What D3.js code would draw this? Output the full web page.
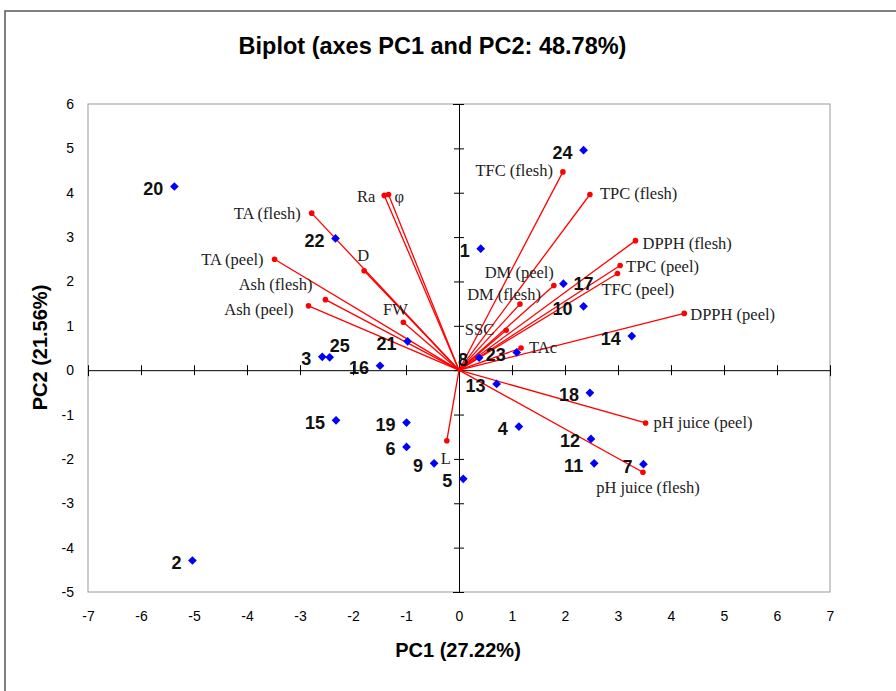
<!DOCTYPE html>
<html>
<head>
<meta charset="utf-8">
<script src="https://cdn.jsdelivr.net/npm/d3@7"></script>
<style>
  body { margin: 0; background: #fff; }
</style>
</head>
<body>
<div id="chart"></div>
<script>
// observations (scores)
const obsLabels = ["1", "2", "3", "4", "5", "6", "7", "8", "9", "10", "11", "12", "13",
    "14", "15", "16", "17", "18", "19", "20", "21", "22", "23", "24", "25"];
const obsPC1 = [0.41, -5.03, -2.58, 1.13, 0.08, -0.99, 3.48, 0.38, -0.47, 2.35, 2.55, 2.49, 0.71,
    3.26, -2.32, -1.49, 1.97, 2.47, -0.99, -5.37, -0.97, -2.33, 1.09, 2.35, -2.44];
const obsPC2 = [2.74, -4.29, 0.30, -1.27, -2.45, -1.73, -2.12, 0.28, -2.10, 1.44, -2.10, -1.55, -0.31,
    0.77, -1.13, 0.10, 1.95, -0.51, -1.18, 4.14, 0.65, 2.97, 0.40, 4.96, 0.29];

// variables (loadings)
const varLabels = ["TA (flesh)", "TA (peel)", "Ash (flesh)", "Ash (peel)", "D", "FW", "Ra", "φ",
    "TFC (flesh)", "TPC (flesh)", "DPPH (flesh)", "TPC (peel)", "TFC (peel)", "DPPH (peel)",
    "DM (peel)", "DM (flesh)", "SSC", "TAc", "pH juice (peel)", "pH juice (flesh)", "L"];
const varPC1 = [-2.78, -3.48, -2.52, -2.84, -1.79, -1.05, -1.41, -1.33,
    1.96, 2.47, 3.33, 3.04, 2.99, 4.25,
    1.79, 1.15, 0.89, 1.17, 3.52, 3.47, -0.23];
const varPC2 = [3.54, 2.50, 1.59, 1.45, 2.24, 1.08, 3.94, 3.96,
    4.47, 3.96, 2.92, 2.36, 2.18, 1.28,
    1.91, 1.49, 0.90, 0.50, -1.19, -2.30, -1.59];

const xTicks = d3.range(-7, 8);
const yTicks = d3.range(-5, 7);

const titleText = "Biplot (axes PC1 and PC2: 48.78%)";
const xTitle = "PC1 (27.22%)";
const yTitle = "PC2 (21.56%)";

// label placement (text offsets only)
const obsLabelPos = {
    "17": { dx: 10, dy: 0, anchor: "start" },
    "25": { dx: 0, dy: -12, anchor: "start" }
};
const varLabelPos = {
    "TA (flesh)": [-11, 0, "end"], "TA (peel)": [-11, 0, "end"],
    "Ash (flesh)": [-13, -15, "end"], "Ash (peel)": [-15, 4, "end"],
    "D": [-1, -15, "middle"], "FW": [-8, -13, "middle"],
    "Ra": [-9, 1, "end"], "φ": [6, 2, "start"],
    "TFC (flesh)": [-10, -1, "end"], "TPC (flesh)": [10, -1, "start"],
    "DPPH (flesh)": [7, 3, "start"], "TPC (peel)": [6, 1, "start"],
    "TFC (peel)": [-16, 16, "start"], "DPPH (peel)": [6, 1, "start"],
    "DM (peel)": [0, -13, "end"], "DM (flesh)": [21, -10, "end"],
    "SSC": [-12, -1, "end"], "TAc": [8, 0, "start"],
    "pH juice (peel)": [8, 0, "start"], "pH juice (flesh)": [5, 15, "middle"],
    "L": [-1, 18, "middle"]
};

const width = 896, height = 691;
const plot = { left: 88, right: 830, top: 104, bottom: 592 };
const sans = "Arial, 'Liberation Sans', sans-serif";
const serif = "'Times New Roman', 'Liberation Serif', serif";

const svg = d3.select("#chart").append("svg")
    .attr("width", width)
    .attr("height", height);

// outer frame
svg.append("rect")
    .attr("x", 5).attr("y", 11)
    .attr("width", 960).attr("height", 760)
    .attr("fill", "none")
    .attr("stroke", "#555")
    .attr("stroke-width", 1.5);

const x = d3.scaleLinear().domain([-7, 7]).range([plot.left, plot.right]);
const y = d3.scaleLinear().domain([-5, 6]).range([plot.bottom, plot.top]);

// title
svg.append("text")
    .attr("x", 432.5).attr("y", 54)
    .attr("text-anchor", "middle")
    .attr("font-family", sans)
    .attr("font-weight", "bold")
    .attr("font-size", "23.5px")
    .text(titleText);

// plot border
svg.append("rect")
    .attr("x", plot.left).attr("y", plot.top)
    .attr("width", plot.right - plot.left)
    .attr("height", plot.bottom - plot.top)
    .attr("fill", "none")
    .attr("stroke", "#999")
    .attr("stroke-width", 1);

// tick labels along the plot edges
const xLab = svg.append("g")
    .attr("transform", `translate(0, ${plot.bottom})`)
    .call(d3.axisBottom(x).tickValues(xTicks).tickSize(0).tickPadding(19).tickFormat(d => String(d)));
const yLab = svg.append("g")
    .attr("transform", `translate(${plot.left}, 0)`)
    .call(d3.axisLeft(y).tickValues(yTicks).tickSize(0).tickPadding(14).tickFormat(d => String(d)));
[xLab, yLab].forEach(g => {
    g.select(".domain").remove();
    g.selectAll("text")
        .attr("font-family", sans)
        .attr("font-size", "14px")
        .attr("fill", "#000");
});

// zero axes with crossing ticks
const xZero = svg.append("g")
    .attr("transform", `translate(0, ${y(0)})`)
    .call(d3.axisBottom(x).tickValues(xTicks).tickFormat(""));
xZero.selectAll(".tick line").attr("y1", -5).attr("y2", 5);
const yZero = svg.append("g")
    .attr("transform", `translate(${x(0)}, 0)`)
    .call(d3.axisLeft(y).tickValues(yTicks).tickFormat(""));
yZero.selectAll(".tick line").attr("x1", -5).attr("x2", 5);
[xZero, yZero].forEach(g => {
    g.select(".domain").attr("stroke", "#000").attr("stroke-width", 1);
    g.selectAll(".tick line").attr("stroke", "#000");
});

// variable vectors
const vars = varLabels.map((name, i) => ({ name, pc1: varPC1[i], pc2: varPC2[i] }));
const vecs = svg.append("g").attr("class", "vectors");
vecs.selectAll("line")
    .data(vars)
    .enter()
    .append("line")
    .attr("x1", x(0)).attr("y1", y(0))
    .attr("x2", d => x(d.pc1))
    .attr("y2", d => y(d.pc2))
    .attr("stroke", "#ff0000")
    .attr("stroke-width", 1.3);
vecs.selectAll("circle")
    .data(vars)
    .enter()
    .append("circle")
    .attr("cx", d => x(d.pc1))
    .attr("cy", d => y(d.pc2))
    .attr("r", 2.8)
    .attr("fill", "#ff0000");
vecs.selectAll("text")
    .data(vars)
    .enter()
    .append("text")
    .attr("x", d => x(d.pc1) + varLabelPos[d.name][0])
    .attr("y", d => y(d.pc2) + varLabelPos[d.name][1])
    .attr("dy", "0.33em")
    .attr("text-anchor", d => varLabelPos[d.name][2])
    .attr("font-family", serif)
    .attr("font-size", "16.5px")
    .attr("fill", "#222")
    .text(d => d.name);

// observations
const obs = obsLabels.map((name, i) => ({ name, pc1: obsPC1[i], pc2: obsPC2[i] }));
const pts = svg.append("g").attr("class", "observations");
const diamond = d3.symbol(d3.symbolSquare, 38);
pts.selectAll("path")
    .data(obs)
    .enter()
    .append("path")
    .attr("d", diamond)
    .attr("transform", d => `translate(${x(d.pc1)}, ${y(d.pc2)}) rotate(45)`)
    .attr("fill", "#0000ff");
pts.selectAll("text")
    .data(obs)
    .enter()
    .append("text")
    .attr("x", d => x(d.pc1) + (obsLabelPos[d.name] ? obsLabelPos[d.name].dx : -11))
    .attr("y", d => y(d.pc2) + (obsLabelPos[d.name] ? obsLabelPos[d.name].dy : 2))
    .attr("dy", "0.36em")
    .attr("text-anchor", d => obsLabelPos[d.name] ? obsLabelPos[d.name].anchor : "end")
    .attr("font-family", sans)
    .attr("font-weight", "bold")
    .attr("font-size", "18px")
    .attr("fill", "#111")
    .text(d => d.name);

// axis titles
svg.append("text")
    .attr("x", 458).attr("y", 657)
    .attr("text-anchor", "middle")
    .attr("font-family", sans)
    .attr("font-weight", "bold")
    .attr("font-size", "20px")
    .text(xTitle);
svg.append("text")
    .attr("transform", "translate(46.5, 347.5) rotate(-90)")
    .attr("text-anchor", "middle")
    .attr("font-family", sans)
    .attr("font-weight", "bold")
    .attr("font-size", "20px")
    .text(yTitle);
</script>
</body>
</html>
